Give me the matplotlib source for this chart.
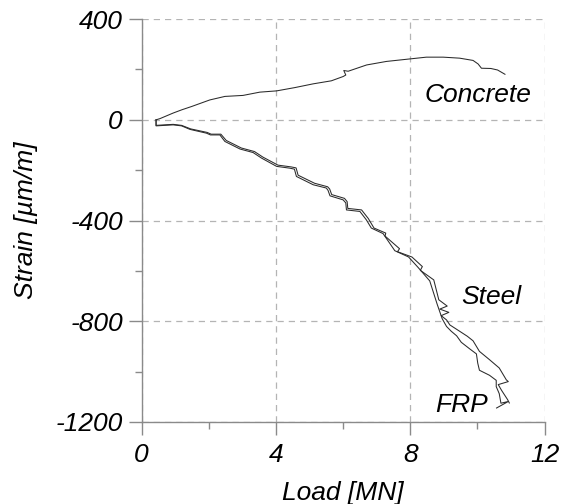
import matplotlib
matplotlib.use("Agg")
import matplotlib.pyplot as plt
from matplotlib.ticker import MultipleLocator

plt.rcParams['font.family'] = ['Liberation Sans', 'DejaVu Sans']
plt.rcParams['font.style'] = 'italic'
plt.rcParams['font.size'] = 19
plt.rcParams['axes.unicode_minus'] = False

# Concrete gauge
concrete_load = [0.43, 0.55, 0.94, 1.20, 1.49, 2.03, 2.48, 3.02, 3.52, 4.02, 4.56, 5.11,
                 5.65, 6.00, 6.08, 6.02, 6.15, 6.70, 7.29, 7.99, 8.48, 8.98, 9.47, 9.87,
                 10.02, 10.12, 10.40, 10.60, 10.82]
concrete_strain = [0, 5, 27, 40, 53, 79, 93, 97, 110, 115, 128, 143,
                   155, 172, 178, 196, 193, 218, 232, 242, 249, 249, 245, 236,
                   222, 205, 204, 198, 181]

# Steel gauge
steel_load = [0.43, 0.43, 0.94, 1.19, 1.46, 1.95, 2.07, 2.36, 2.52, 2.97, 3.36, 3.61,
              4.06, 4.45, 4.60, 4.66, 5.15, 5.54, 5.60, 5.66, 6.04, 6.12, 6.14, 6.55,
              6.75, 6.92, 7.27, 7.25, 7.68, 7.62, 8.05, 8.36, 8.30, 8.70, 8.85, 9.10,
              8.88, 9.15, 8.92, 9.08, 9.18, 9.47, 9.70, 9.87, 10.06, 10.36, 10.65,
              10.86, 10.92, 10.62, 10.72, 10.90, 10.95]
steel_strain = [0, -22, -18, -22, -36, -50, -57, -57, -82, -112, -126, -148,
                -180, -187, -191, -220, -252, -266, -275, -297, -312, -325, -352, -358,
                -392, -430, -450, -462, -512, -524, -545, -583, -598, -636, -715, -740,
                -752, -765, -778, -795, -815, -840, -860, -878, -920, -953, -986,
                -1033, -1040, -1052, -1075, -1112, -1125]

# FRP gauge
frp_load = [0.43, 0.43, 0.94, 1.19, 1.44, 1.93, 2.05, 2.33, 2.48, 2.93, 3.32, 3.57,
            4.02, 4.41, 4.55, 4.61, 5.11, 5.50, 5.55, 5.61, 6.00, 6.08, 6.10, 6.50,
            6.69, 6.84, 7.19, 7.54, 7.95, 8.23, 8.58, 8.80, 8.95, 9.08, 9.22, 9.38,
            9.52, 9.77, 9.97, 10.01, 10.06, 10.36, 10.56, 10.56, 10.65, 10.70, 10.92,
            10.57]
frp_strain = [0, -24, -20, -24, -38, -53, -60, -60, -86, -116, -130, -152,
              -185, -192, -196, -225, -258, -271, -280, -302, -318, -330, -358, -364,
              -397, -430, -452, -520, -545, -586, -640, -732, -790, -821, -840, -858,
              -884, -910, -930, -967, -995, -1015, -1035, -1060, -1088, -1126, -1119,
              -1145]

fig = plt.figure(figsize=(5.62, 5.04), dpi=100)
ax = fig.add_axes([0.252, 0.163, 0.717, 0.799])

line_kw = dict(color='#2a2a2a', lw=0.75)
ax.plot(concrete_load, concrete_strain, **line_kw)
ax.plot(steel_load, steel_strain, **line_kw)
ax.plot(frp_load, frp_strain, **line_kw)

ax.text(8.43, 99, 'Concrete', va='center', ha='left')
ax.text(9.52, -705, 'Steel', va='center', ha='left')
ax.text(8.74, -1132, 'FRP', va='center', ha='left')

ax.set_xlim(0, 12)
ax.set_ylim(-1200, 400)
ax.xaxis.set_major_locator(MultipleLocator(4))
ax.xaxis.set_minor_locator(MultipleLocator(2))
ax.yaxis.set_major_locator(MultipleLocator(400))
ax.yaxis.set_minor_locator(MultipleLocator(200))

ax.grid(True, which='major', color='#b4b4b4', lw=0.9, linestyle=(0, (5, 4)))
ax.set_axisbelow(True)
for side in ['top', 'right']:
    ax.spines[side].set_visible(False)
for side in ['left', 'bottom']:
    ax.spines[side].set_color('#8a8a8a')
    ax.spines[side].set_linewidth(1.0)
ax.tick_params(which='major', direction='out', length=9.5, width=1.0, color='#8a8a8a')
ax.tick_params(which='minor', direction='out', length=5, width=1.0, color='#8a8a8a')
ax.tick_params(axis='x', pad=6)
ax.tick_params(axis='y', pad=4)

ax.set_xlabel('Load [MN]', labelpad=10)
ax.set_ylabel('Strain [µm/m]', labelpad=13)

fig.savefig('out.png', dpi=100)
